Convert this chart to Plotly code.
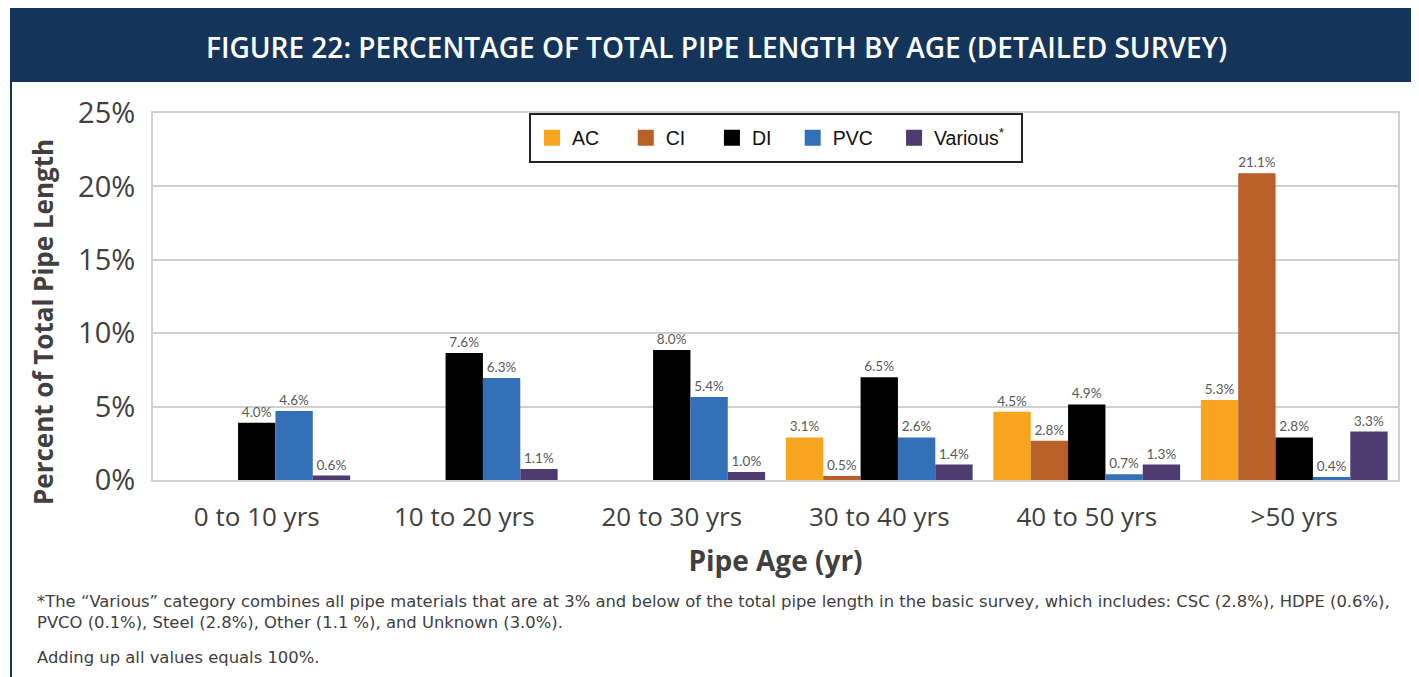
import plotly.graph_objects as go

# pipe age buckets
ages = ["0 to 10 yrs", "10 to 20 yrs", "20 to 30 yrs", "30 to 40 yrs", "40 to 50 yrs", ">50 yrs"]

# bar heights as drawn (percent)
ac = [None, None, None, 2.9, 4.65, 5.45]
ci = [None, None, None, 0.27, 2.67, 20.9]
di = [3.9, 8.65, 8.85, 7.0, 5.15, 2.9]
pvc = [4.7, 6.95, 5.65, 2.9, 0.4, 0.2]
various = [0.3, 0.75, 0.55, 1.05, 1.05, 3.3]

# data labels as printed
ac_lbl = [None, None, None, "3.1%", "4.5%", "5.3%"]
ci_lbl = [None, None, None, "0.5%", "2.8%", "21.1%"]
di_lbl = ["4.0%", "7.6%", "8.0%", "6.5%", "4.9%", "2.8%"]
pvc_lbl = ["4.6%", "6.3%", "5.4%", "2.6%", "0.7%", "0.4%"]
various_lbl = ["0.6%", "1.1%", "1.0%", "1.4%", "1.3%", "3.3%"]

yticks = [0, 5, 10, 15, 20, 25]

series = [
    ("AC", ac, ac_lbl, "#F7A41F", 4),
    ("CI", ci, ci_lbl, "#B95F28", 4),
    ("DI", di, di_lbl, "#000000", 3),
    ("PVC", pvc, pvc_lbl, "#3470B8", 3),
    ("Various<sup>*</sup>", various, various_lbl, "#4E3B6F", 0),
]

NAVY = "#15345A"
GREY = "#404040"
FONT = "Open Sans"

fig = go.Figure()
for name, vals, lbls, col, pad in series:
    fig.add_trace(go.Bar(
        x=ages, y=vals, name=name, marker_color=col, marker_line_width=0,
        text=lbls, textposition="outside", cliponaxis=False, showlegend=False,
        textfont=dict(family="Lato", size=13.5, color="#595959"),
    ))
    # legend-only entry with a bigger square swatch
    fig.add_trace(go.Scatter(
        x=[None], y=[None], mode="markers", name=name + "\u00a0" * pad,
        marker=dict(symbol="square", size=16, color=col),
    ))

# plot area spans x 153..1398, y 113..480 px on the page
def px_x(p):
    return (p - 153) / 1245

def px_y(p):
    return (480 - p) / 367

fig.add_shape(type="rect", xref="paper", yref="paper",
              x0=px_x(10), x1=px_x(1430), y0=px_y(82), y1=px_y(0),
              fillcolor=NAVY, line_width=0, layer="below")
fig.add_shape(type="line", xref="paper", yref="paper",
              x0=px_x(11), x1=px_x(11), y0=px_y(82), y1=px_y(690),
              line=dict(color=NAVY, width=2))
# legend frame
fig.add_shape(type="rect", xref="paper", yref="paper",
              x0=px_x(530), x1=px_x(1022), y0=px_y(162), y1=px_y(114),
              fillcolor="white", line=dict(color="#222222", width=2), layer="above")

fig.add_annotation(text="FIGURE 22: PERCENTAGE OF TOTAL PIPE LENGTH BY AGE (DETAILED SURVEY)",
                   xref="paper", yref="paper", x=px_x(716), y=px_y(47), yanchor="middle",
                   showarrow=False, font=dict(family=FONT, size=28, color="white", weight=600))

# y axis title, placed by hand to sit where the original does
fig.add_annotation(text="<b>Percent of Total Pipe Length</b>", textangle=-90,
                   xref="paper", yref="paper", x=px_x(43), y=px_y(322),
                   xanchor="center", yanchor="middle", showarrow=False,
                   font=dict(family=FONT, size=26, color=GREY))

notes = [
    ("*The \u201cVarious\u201d category combines all pipe materials that are at 3% and below of the total pipe length "
     "in the basic survey, which includes: CSC (2.8%), HDPE (0.6%),", 601),
    ("PVCO (0.1%), Steel (2.8%), Other (1.1 %), and Unknown (3.0%).", 622),
    ("Adding up all values equals 100%.", 657),
]
for txt, yy in notes:
    fig.add_annotation(text=txt, xref="paper", yref="paper", x=px_x(35), y=px_y(yy),
                       xanchor="left", yanchor="middle", showarrow=False,
                       font=dict(family="DejaVu Sans", size=16.4, color=GREY))

fig.update_layout(
    width=1419, height=677,
    margin=dict(l=145, r=29, t=105, b=205, autoexpand=False),
    paper_bgcolor="white", plot_bgcolor="white",
    barmode="group", bargap=0.1, bargroupgap=0,
    font=dict(family=FONT, color=GREY),
    legend=dict(orientation="h", x=px_x(771), xanchor="center", y=px_y(138), yanchor="middle",
                borderwidth=0, bgcolor="rgba(0,0,0,0)", itemsizing="trace",
                font=dict(family="Liberation Sans", size=19.5, color="#111111")),
    xaxis=dict(title=dict(text="<b>Pipe Age (yr)</b>", font=dict(size=28, color=GREY), standoff=18),
               tickfont=dict(size=26, color=GREY), ticklabelstandoff=13,
               showline=True, linecolor="#D0D0D0", linewidth=2, mirror=True, ticks=""),
    yaxis=dict(range=[0, 25], tickmode="array", tickvals=yticks,
               ticktext=[f"{t}%" for t in yticks], ticklabelstandoff=10,
               tickfont=dict(size=29, color=GREY), gridcolor="#D0D0D0", gridwidth=1.5,
               showline=True, linecolor="#D0D0D0", linewidth=2, mirror=True,
               zeroline=False, ticks=""),
)

fig.write_html("out.html")
